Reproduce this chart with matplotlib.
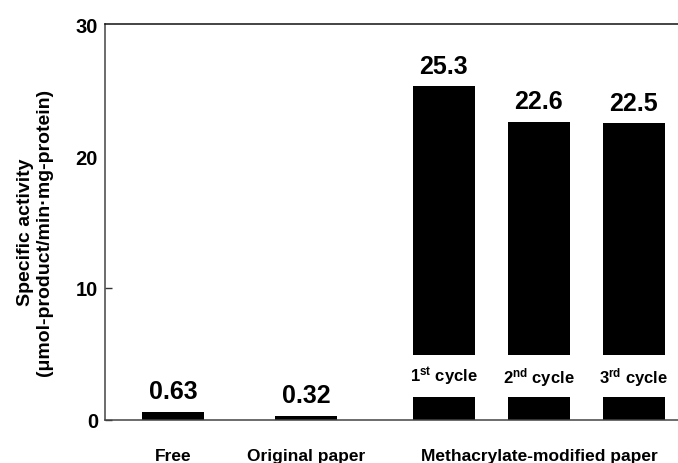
import matplotlib
matplotlib.use("Agg")
import matplotlib.pyplot as plt

plt.rcParams['font.family'] = ['Liberation Sans', 'DejaVu Sans']
plt.rcParams['font.weight'] = 'bold'
plt.rcParams['mathtext.fontset'] = 'custom'
plt.rcParams['mathtext.rm'] = 'Liberation Sans:bold'
plt.rcParams['mathtext.bf'] = 'Liberation Sans:bold'
plt.rcParams['mathtext.it'] = 'Liberation Sans:bold'

# specific activity for each sample
positions = [0, 1.4, 2.85, 3.85, 4.85]
values = [0.63, 0.32, 25.3, 22.6, 22.5]
value_text = ['0.63', '0.32', '25.3', '22.6', '22.5']

# cycles of the methacrylate-modified paper (bars 2..4)
cycle_idx = [2, 3, 4]
cycle_labels = [r'1$^{\mathrm{st}}$ cycle', r'2$^{\mathrm{nd}}$ cycle', r'3$^{\mathrm{rd}}$ cycle']
gap_lo, gap_hi = 1.75, 4.9

group_pos = [0, 1.4, 3.85]
group_labels = ['Free', 'Original paper', 'Methacrylate-modified paper']

fig = plt.figure(figsize=(6.78, 4.64), dpi=100)
ax = fig.add_axes([0.1549, 0.0927, 0.845, 0.8534])

width = 0.65
for i, (x, v) in enumerate(zip(positions, values)):
    if i in cycle_idx:
        # bar broken around the cycle label
        ax.bar(x, gap_lo, width=width, color='black')
        ax.bar(x, v - gap_hi, bottom=gap_hi, width=width, color='black')
        lab = cycle_labels[cycle_idx.index(i)]
        ax.text(x, (gap_lo + gap_hi) / 2, lab, ha='center', va='center',
                fontsize=12, fontweight='bold')
    else:
        ax.bar(x, v, width=width, color='black')
    ax.annotate(value_text[i], (x, v), xytext=(0, 6), textcoords='offset points',
                ha='center', va='bottom', fontsize=18, fontweight='bold')

ax.set_xlim(-0.716, 5.313)
ax.set_ylim(0, 30)
ax.set_yticks([0, 10, 20, 30])
ax.set_yticklabels(['0', '10', '20', '30'], fontsize=14.5, fontweight='bold')
ax.tick_params(axis='y', direction='in', length=5, width=1, pad=5, color='#333333')
ax.yaxis.get_major_ticks()[2].tick1line.set_visible(False)
ax.yaxis.get_major_ticks()[3].tick1line.set_visible(False)

ax.set_xticks(group_pos)
ax.set_xticklabels(group_labels, fontsize=12.5, fontweight='bold')
ax.tick_params(axis='x', length=0, pad=20)

ax.spines['right'].set_visible(False)
for s in ['left', 'bottom']:
    ax.spines[s].set_color('#444444')
    ax.spines[s].set_linewidth(1.1)
ax.spines['top'].set_color('#111111')
ax.spines['top'].set_linewidth(1.1)

fig.text(35 / 678, 1 - 232 / 464,
         'Specific activity\n(\u03bcmol-product/min\u00b7mg-protein)',
         rotation=90, ha='center', va='center', multialignment='center',
         fontsize=14, fontweight='bold', linespacing=1.2)

fig.savefig('out.png', dpi=100)
